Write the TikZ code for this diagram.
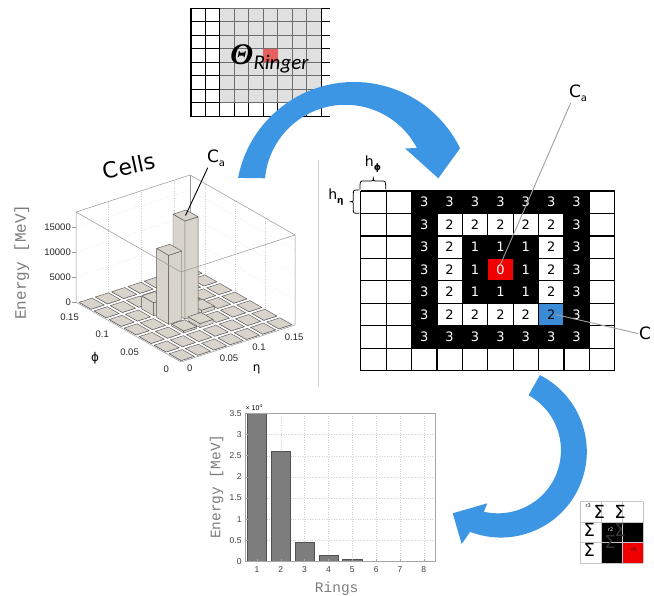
\documentclass[tikz,border=0pt]{standalone}
\usepackage{fontspec}
\setmainfont{DejaVu Sans}
\newfontfamily\plotfont{Liberation Sans}
\newfontfamily\plotmono{Liberation Mono}
\newfontfamily\calfont{Carlito}
\newfontfamily\greekserif{Liberation Serif}

\definecolor{arrowblue}{RGB}{60,150,228}
\definecolor{cellred}{RGB}{240,0,0}
\definecolor{cellblue}{RGB}{58,140,214}
\definecolor{hotcell}{RGB}{232,96,92}
\definecolor{veil}{RGB}{199,199,199}
\definecolor{tilefill}{RGB}{216,212,204}
\definecolor{tileedge}{RGB}{90,90,90}
\definecolor{boxgrey}{RGB}{150,150,150}
\definecolor{labelgrey}{RGB}{125,125,125}
\definecolor{barfill}{RGB}{125,125,125}
\definecolor{baredge}{RGB}{80,80,80}
\definecolor{leadgrey}{RGB}{160,160,160}

\tikzset{
  gridline/.style={line width=1.2pt, draw=black},
  thingrid/.style={line width=1.1pt, draw=black},
  ringnum/.style={font=\fontsize{13}{13}\selectfont, inner sep=0pt},
  bluearrow/.style={fill=arrowblue},
  barface/.style={fill=tilefill, draw=tileedge, line width=0.45pt, line join=round},
  boxline/.style={draw=boxgrey, line width=0.5pt},
  walldots/.style={draw=gray!40, line width=0.4pt, dotted},
  ticklab/.style={font=\plotfont\fontsize{9.5}{10}\selectfont, text=black!85, inner sep=0pt},
  axtitle/.style={font=\plotmono\fontsize{16}{16}\selectfont, text=labelgrey, inner sep=0pt},
  smalltick/.style={font=\plotfont\fontsize{8.5}{9}\selectfont, text=black!75, inner sep=0pt},
  charttitle/.style={font=\plotmono\fontsize{14.5}{15}\selectfont, text=labelgrey, inner sep=0pt},
  chartbar/.style={fill=barfill, draw=baredge, line width=0.5pt},
  chartaxis/.style={draw=gray!70, line width=0.5pt},
  griddot/.style={draw=gray!35, line width=0.4pt, dotted},
  leadline/.style={draw=leadgrey, line width=0.9pt},
  darklead/.style={draw=black, line width=0.9pt},
  bracepath/.style={draw=black, line width=0.8pt},
  iconline/.style={draw=gray!45, line width=0.7pt},
  sigma/.style={font=\fontsize{18}{18}\selectfont, inner sep=0pt},
  tinylab/.style={font=\fontsize{5}{5}\selectfont, inner sep=0pt},
}

% one bar of the lego plot: cell (u,v), height in units of 1000 MeV
\newcommand\drawbar[3]{%
  \pgfmathsetmacro\ua{#1+0.1}\pgfmathsetmacro\ub{#1+0.9}%
  \pgfmathsetmacro\va{#2+0.1}\pgfmathsetmacro\vb{#2+0.9}%
  \filldraw[barface] (\ua,\va,0) -- (\ua,\vb,0) -- (\ua,\vb,#3) -- (\ua,\va,#3) -- cycle;
  \filldraw[barface] (\ua,\va,0) -- (\ub,\va,0) -- (\ub,\va,#3) -- (\ua,\va,#3) -- cycle;
  \filldraw[barface] (\ua,\va,#3) -- (\ub,\va,#3) -- (\ub,\vb,#3) -- (\ua,\vb,#3) -- cycle;
}
\def\setbar#1#2#3{\expandafter\def\csname bh@#1@#2\endcsname{#3}}
\setbar{3}{3}{19.6}
\setbar{2}{3}{13.8}
\setbar{2}{4}{2.6}
\setbar{3}{4}{2.0}
\setbar{3}{2}{0.8}
\setbar{4}{3}{0.7}
\setbar{4}{4}{0.5}
\setbar{2}{2}{0.4}

\begin{document}
\begin{tikzpicture}[x=1pt,y=-1pt]
\useasboundingbox (0,0) rectangle (654,596);
\fill[white] (0,0) rectangle (654,596);

% ---------- upper input grid with the Ringer window ----------
\foreach \i in {0,...,9}
  \draw[thingrid] ({191+\i*14.45},8.3) -- ({191+\i*14.45},117.5);
\foreach \j in {0,...,8}
  \draw[thingrid] (189.5,{8.3+\j*13.5}) -- (330,{8.3+\j*13.5});
\fill[veil, opacity=0.55] (219.9,8.3) rectangle (321,102.8);
\fill[hotcell] (263.25,48.8) rectangle (277.7,62.3);
\node[font=\greekserif\bfseries\itshape\fontsize{30}{30}\selectfont, inner sep=0pt] (theta) at (241.7,55) {Θ};
\node[font=\calfont\itshape\fontsize{21}{21}\selectfont, inner sep=0pt, anchor=base west] (ringer) at (253.3,70) {Ringer};

% ---------- divider ----------
\draw[draw=gray!35, line width=0.8pt] (318.3,160) -- (318.3,387);

% ---------- lego plot of the cells ----------
\begin{scope}[shift={(181,362)}, x={(16.29pt,5.29pt)}, y={(-15pt,8.57pt)}, z={(0pt,5pt)}]
  \foreach \zz in {5,10,15}
    \draw[walldots] (0,7,\zz) -- (7,7,\zz) -- (7,0,\zz);
  \foreach \t in {2,4,6} {
    \draw[walldots] (\t,7,0) -- (\t,7,18);
    \draw[walldots] (7,\t,0) -- (7,\t,18);
  }
  \draw[boxline] (0,7,0) -- (0,7,18) -- (7,7,18) -- (7,0,18) -- (7,0,0);
  \draw[boxline] (7,7,0) -- (7,7,18);
  \draw[boxline] (0,7,0) -- (0,0,0) -- (7,0,0);
  % tiles and bars, far cells first
  \foreach \s in {12,11,...,0} {
    \foreach \uu in {0,...,6} {
      \pgfmathtruncatemacro\vv{\s-\uu}
      \ifnum\vv>-1 \ifnum\vv<7
        \ifcsname bh@\uu @\vv\endcsname
          \edef\hh{\csname bh@\uu @\vv\endcsname}%
        \else \def\hh{0}\fi
        \drawbar{\uu}{\vv}{\hh}
      \fi\fi
    }
  }
  \draw[boxline] (0,7,18) -- (0,0,18) -- (7,0,18);
  % axis ticks and labels
  \foreach \zz/\lab in {0/0,5/5000,10/10000,15/15000} {
    \draw[boxline] (0,7,\zz) -- ++(-4pt,0pt);
    \node[ticklab, anchor=east] at ([xshift=-5pt]0,7,\zz) {\lab};
  }
  \foreach \t/\lab in {0/0,2/0.05,4/0.1,6/0.15} {
    \node[ticklab, anchor=north west] at ([xshift=6pt,yshift=-3pt]\t,0,0) {\lab};
    \node[ticklab, anchor=east] at ([xshift=-12pt,yshift=-7pt]0,\t,0) {\lab};
  }
  \coordinate (catop) at (3.5,3.5,19.6);
\end{scope}
\node[font=\fontsize{12}{12}\selectfont, inner sep=0pt] (philab) at (95,358.3) {ϕ};
\node[font=\fontsize{12}{12}\selectfont, inner sep=0pt] (etalab) at (256.7,369) {η};
\node[axtitle, rotate=90] (elab) at (21.7,262) {Energy [MeV]};
\node[rotate=12, font=\fontsize{22}{22}\selectfont, inner sep=0pt] (cells) at (129,166) {Cells};
\node[font=\fontsize{17}{17}\selectfont, inner sep=1pt] (ca1) at (216,158) {C\raisebox{-0.45ex}{\fontsize{10}{10}\selectfont a}};
\draw[darklead] (ca1.south west) ++(2,0) -- (catop);

% ---------- ring grid ----------
\def\gx{360.7}\def\gw{25.4}\def\gy{191}\def\gh{22.46}
\fill[black] ({\gx+2*\gw},\gy) rectangle ({\gx+9*\gw},{\gy+7*\gh});
\fill[white] ({\gx+3*\gw},{\gy+\gh}) rectangle ({\gx+8*\gw},{\gy+6*\gh});
\fill[black] ({\gx+4*\gw},{\gy+2*\gh}) rectangle ({\gx+7*\gw},{\gy+5*\gh});
\fill[cellred] ({\gx+5*\gw},{\gy+3*\gh}) rectangle ({\gx+6*\gw},{\gy+4*\gh});
\fill[cellblue] ({\gx+7*\gw},{\gy+5*\gh}) rectangle ({\gx+8*\gw},{\gy+6*\gh});
\foreach \i in {0,...,10}
  \draw[gridline] ({\gx+\i*\gw},\gy) -- ({\gx+\i*\gw},{\gy+8*\gh});
\foreach \j in {0,...,8}
  \draw[gridline] (\gx,{\gy+\j*\gh}) -- ({\gx+10*\gw},{\gy+\j*\gh});
\foreach \rr in {1,...,7} {
  \foreach \cc in {3,...,9} {
    \pgfmathtruncatemacro\ring{max(abs(\cc-6),abs(\rr-4))}
    \ifnum\ring=2 \def\numcol{black}\else\def\numcol{white}\fi
    \node[ringnum, text=\numcol] (n\rr-\cc) at ({\gx+(\cc-0.5)*\gw},{\gy+(\rr-0.5)*\gh}) {\ring};
  }
}
% cell size braces
\draw[bracepath] (360,189.3) .. controls (360,181) and (360,181) .. (364,181) -- (369.5,181)
  .. controls (373.3,181) and (373.3,181) .. (373.3,176.7)
  .. controls (373.3,181) and (373.3,181) .. (377,181) -- (381.7,181)
  .. controls (385.7,181) and (385.7,181) .. (385.7,189.3);
\draw[bracepath] (359.3,190) .. controls (353.3,190) and (353.3,190) .. (353.3,194) -- (353.3,198)
  .. controls (353.3,201.7) and (353.3,201.7) .. (349.3,201.7)
  .. controls (353.3,201.7) and (353.3,201.7) .. (353.3,205.5) -- (353.3,209.5)
  .. controls (353.3,213.3) and (353.3,213.3) .. (359.3,213.3);
\node[font=\fontsize{14}{14}\selectfont, inner sep=0pt] (hphi) at (373,164) {h\raisebox{-0.5ex}{\fontsize{9}{9}\selectfont\bfseries ϕ}};
\node[font=\fontsize{14}{14}\selectfont, inner sep=0pt] (heta) at (336,197) {h\raisebox{-0.5ex}{\fontsize{9}{9}\selectfont\bfseries η}};
% callouts
\node[font=\fontsize{17}{17}\selectfont, inner sep=1pt] (ca2) at (578,93) {C\raisebox{-0.45ex}{\fontsize{10}{10}\selectfont a}};
\draw[leadline] (ca2.south west) ++(3,0) -- (n4-6.north);
\node[font=\fontsize{17}{17}\selectfont, inner sep=1pt] (cb) at (645,333.5) {C};
\draw[leadline] (n6-8.east) -- (cb.west);

% ---------- ring energy histogram ----------
\def\bx{245}\def\bxr{435.7}\def\by{561.7}\def\bys{42.4}\def\bw{23.84}
\foreach \k in {1,...,6}
  \draw[griddot] (\bx,{\by-\k*0.5*\bys}) -- (\bxr,{\by-\k*0.5*\bys});
\foreach \i in {2,...,8}
  \draw[griddot] ({\bx+(\i-0.5)*\bw},413.3) -- ({\bx+(\i-0.5)*\bw},\by);
\foreach \i/\val in {1/3.5,2/2.6,3/0.45,4/0.16,5/0.06,6/0.015,7/0.012,8/0.01}
  \filldraw[chartbar] ({\bx+(\i-0.9)*\bw},\by) rectangle ({\bx+(\i-0.1)*\bw},{\by-\val*\bys});
\draw[chartaxis] (\bx,413.3) rectangle (\bxr,\by);
\foreach \k/\lab in {0/0,1/0.5,2/1,3/1.5,4/2,5/2.5,6/3,7/3.5} {
  \draw[chartaxis] (\bx,{\by-\k*0.5*\bys}) -- ++(2.5,0);
  \node[smalltick, anchor=east] at (241.7,{\by-\k*0.5*\bys}) {\lab};
}
\foreach \i in {1,...,8} {
  \draw[chartaxis] ({\bx+(\i-0.5)*\bw},\by) -- ++(0,-2.5);
  \node[smalltick, anchor=north] at ({\bx+(\i-0.5)*\bw},566) {\i};
}
\node[font=\plotfont\fontsize{7}{7}\selectfont, inner sep=0pt, anchor=south west] (scale) at (245.5,410.5) {× 10\raisebox{0.8ex}{\fontsize{4.5}{4.5}\selectfont 4}};
\node[charttitle, rotate=90] (ylab) at (216.7,486.7) {Energy [MeV]};
\node[charttitle] (xlab) at (336.7,589) {Rings};

% ---------- ring sum icon ----------
\def\ix{580}\def\iy{501.7}\def\iw{21.1}\def\ih{20.53}
\fill[black] ({\ix+\iw},{\iy+\ih}) rectangle ({\ix+3*\iw},{\iy+3*\ih});
\fill[cellred] ({\ix+2*\iw},{\iy+2*\ih}) rectangle ({\ix+3*\iw},{\iy+3*\ih});
\foreach \i in {0,...,3} {
  \draw[iconline] ({\ix+\i*\iw},\iy) -- ({\ix+\i*\iw},{\iy+3*\ih});
  \draw[iconline] (\ix,{\iy+\i*\ih}) -- ({\ix+3*\iw},{\iy+\i*\ih});
}
\node[sigma] (s1) at (599.3,511.7) {Σ};
\node[sigma] (s2) at (620,511.7) {Σ};
\node[sigma] (s3) at (589.3,530) {Σ};
\node[sigma, text=black!80] (s4) at (620,530) {Σ};
\node[sigma] (s5) at (589.3,550) {Σ};
\node[sigma, text=black!80] (s6) at (610,541.7) {Σ};
\node[tinylab] (r3) at (588.3,506) {r3};
\node[tinylab, text=white] (r2) at (610.7,529.3) {r2};
\node[tinylab] (r1) at (634,550) {r1};

% ---------- flow arrows ----------
\fill[bluearrow] (238.1,177.9) arc[start angle=-169.2, end angle=-27.5, radius=118]
  -- (460,148.3) -- (438.3,178.3) -- (405,148.3) -- (417,148.2)
  arc[start angle=-27.5, end angle=-174.9, radius=80.7] -- cycle;
\fill[bluearrow] (539.9,375.1) arc[start angle=-63, end angle=111, radius=85.9]
  -- (461.7,544) -- (452.7,513.3) -- (487.3,503.3) -- (483.8,511.7)
  arc[start angle=103, end angle=-61, radius=63] -- cycle;
\end{tikzpicture}
\end{document}
